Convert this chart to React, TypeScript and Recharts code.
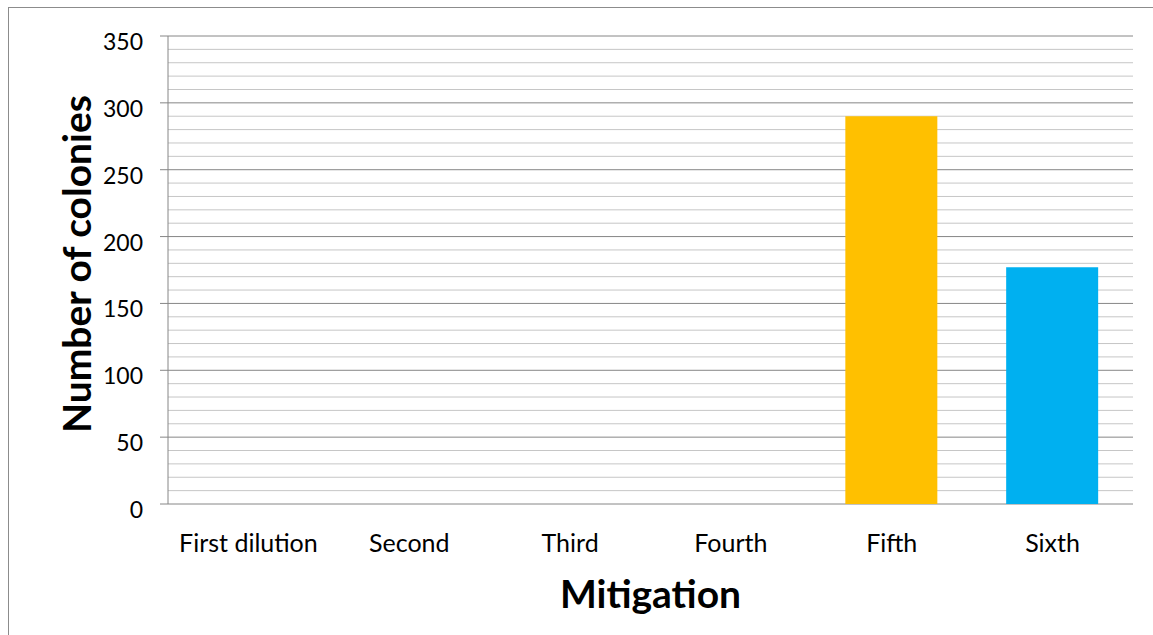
import { BarChart, Bar, XAxis, YAxis, CartesianGrid, Cell } from 'recharts';

const categories = ['First dilution', 'Second', 'Third', 'Fourth', 'Fifth', 'Sixth'];
const colonies = [0, 0, 0, 0, 290, 177];
const yTicks = [0, 50, 100, 150, 200, 250, 300, 350];
const minorTicks = [
  10, 20, 30, 40, 60, 70, 80, 90, 110, 120, 130, 140, 160, 170, 180, 190,
  210, 220, 230, 240, 260, 270, 280, 290, 310, 320, 330, 340,
];

const barColors = ['#FFC000', '#FFC000', '#FFC000', '#FFC000', '#FFC000', '#00B0F0'];
const FONT = 'Lato, "Open Sans", sans-serif';

const data = categories.map((name, i) => ({ name, colonies: colonies[i] }));

function YTick(props: any) {
  const { x, y, payload } = props;
  return (
    <text x={x} y={y + 14} textAnchor="end" fontSize={23} fontFamily={FONT} fill="#000">
      {payload.value}
    </text>
  );
}

function XTick(props: any) {
  const { x, y, payload } = props;
  return (
    <text x={x} y={y + 40} textAnchor="middle" fontSize={25} fontFamily={FONT} fill="#000">
      {payload.value}
    </text>
  );
}

export default function App() {
  return (
    <div
      style={{
        position: 'absolute',
        left: 8,
        top: 7,
        width: 1150,
        height: 640,
        border: '1px solid #8c8c8c',
        background: '#fff',
      }}
    >
      <BarChart
        width={1140}
        height={627}
        data={data}
        margin={{ top: 28, right: 16, left: 0, bottom: 0 }}
      >
        <CartesianGrid horizontalValues={minorTicks} vertical={false} stroke="#c6c6c6" />
        <CartesianGrid horizontalValues={yTicks} vertical={false} stroke="#868686" />
        <XAxis
          dataKey="name"
          height={131}
          axisLine={false}
          tickLine={false}
          tick={<XTick />}
          label={{
            content: (p: any) => (
              <text
                x={p.viewBox.x + p.viewBox.width / 2}
                y={p.viewBox.y + 104}
                textAnchor="middle"
                fontSize={39}
                fontWeight="bold"
                fontFamily={FONT}
                fill="#000"
              >
                Mitigation
              </text>
            ),
          }}
        />
        <YAxis
          width={159}
          domain={[0, 350]}
          ticks={yTicks}
          interval={0}
          axisLine={{ stroke: '#868686' }}
          tickLine={{ stroke: '#868686' }}
          tickSize={8}
          tickMargin={17}
          tick={<YTick />}
          label={{
            content: (p: any) => {
              const cx = p.viewBox.x + 67;
              const cy = p.viewBox.y + p.viewBox.height / 2 - 6;
              return (
                <text
                  x={cx}
                  y={cy}
                  transform={`rotate(-90 ${cx} ${cy})`}
                  textAnchor="middle"
                  dominantBaseline="central"
                  fontSize={39}
                  fontWeight="bold"
                  fontFamily={FONT}
                  fill="#000"
                >
                  Number of colonies
                </text>
              );
            },
          }}
        />
        <Bar dataKey="colonies" barSize={92} isAnimationActive={false}>
          {data.map((d, i) => (
            <Cell key={d.name} fill={barColors[i]} />
          ))}
        </Bar>
      </BarChart>
    </div>
  );
}
